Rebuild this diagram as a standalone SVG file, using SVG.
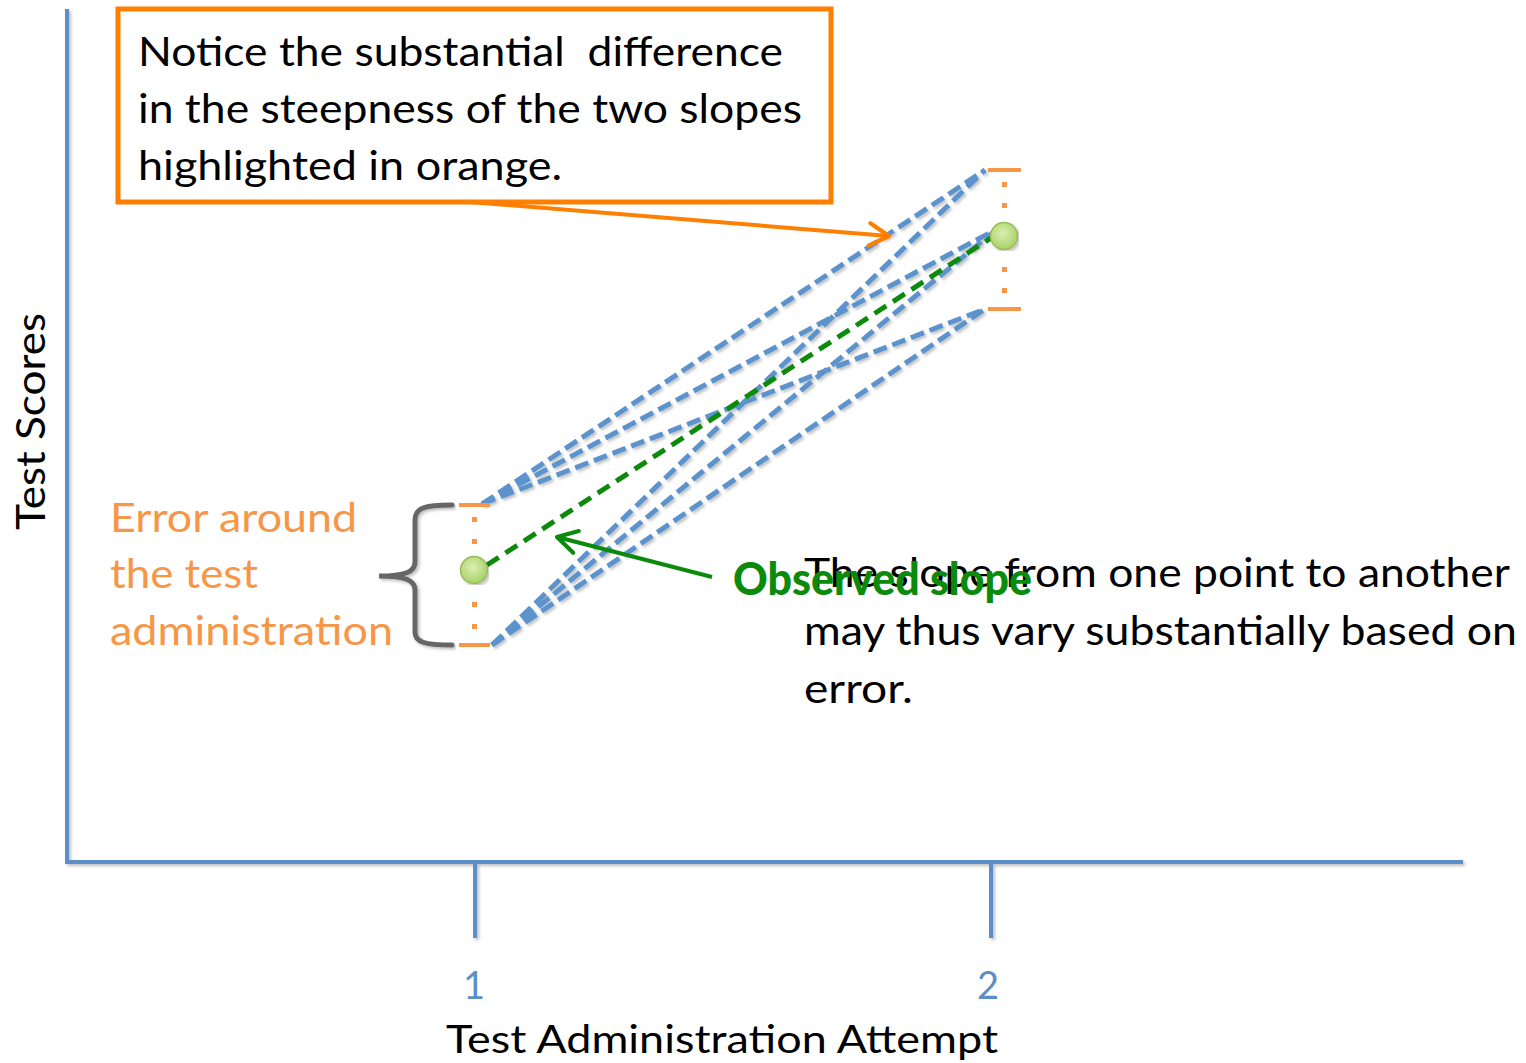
<svg xmlns="http://www.w3.org/2000/svg" width="1526" height="1063" viewBox="0 0 1526 1063">
<defs>
<filter id="sh" x="-5%" y="-5%" width="110%" height="110%">
<feDropShadow dx="2" dy="2" stdDeviation="1.5" flood-color="#000" flood-opacity="0.25"/>
</filter>
<radialGradient id="dotg" cx="45%" cy="40%" r="60%">
<stop offset="0" stop-color="#dcefb0"/>
<stop offset="1" stop-color="#a9d16a"/>
</radialGradient>
<marker id="arrO" viewBox="0 0 20 20" refX="17" refY="10" markerWidth="7" markerHeight="7" markerUnits="strokeWidth" orient="auto">
<path d="M3,2 L17,10 L3,18" fill="none" stroke="#ff7f00" stroke-width="3" stroke-linecap="round" stroke-linejoin="round"/>
</marker>
<marker id="arrG" viewBox="0 0 20 20" refX="17" refY="10" markerWidth="7" markerHeight="7" markerUnits="strokeWidth" orient="auto">
<path d="M3,2 L17,10 L3,18" fill="none" stroke="#0c8a0c" stroke-width="3" stroke-linecap="round" stroke-linejoin="round"/>
</marker>
</defs>
<style>
.t{font-family:Lato,"Open Sans","Liberation Sans",sans-serif;font-size:41px;fill:#000}
.or{fill:#f79646}
.ax{stroke:#5b8fc7;stroke-width:4;fill:none}
.bl{stroke:#5b93cc;stroke-width:5;stroke-dasharray:14 6;fill:none}
.cap{stroke:#f79646;stroke-width:4}
.dt{fill:#f79646}
</style>
<rect width="1526" height="1063" fill="#fff"/>

<g id="axes" filter="url(#sh)">
<line class="ax" x1="67" y1="9" x2="67" y2="863"/>
<line class="ax" x1="65" y1="862" x2="1463" y2="862"/>
<line class="ax" x1="475" y1="862" x2="475" y2="938"/>
<line class="ax" x1="991" y1="862" x2="991" y2="938"/>
</g>

<g id="axis-labels">
<text class="t" x="463" y="999" style="fill:#5b8fc7;font-size:38px">1</text>
<text class="t" x="977" y="999" style="fill:#5b8fc7;font-size:38px">2</text>
<text class="t" x="446" y="1053" style="font-size:38px" textLength="552" lengthAdjust="spacingAndGlyphs">Test Administration Attempt</text>
<text class="t" transform="translate(45,530) rotate(-90)" x="0" y="0" textLength="217" lengthAdjust="spacingAndGlyphs">Test Scores</text>
</g>

<g id="connectors">
<g filter="url(#sh)">
<line class="bl" x1="482" y1="504" x2="985" y2="170"/>
<line class="bl" x1="482" y1="504" x2="997" y2="229"/>
<line class="bl" x1="482" y1="504" x2="985" y2="309"/>
<line class="bl" x1="492" y1="645" x2="985" y2="170"/>
<line class="bl" x1="492" y1="645" x2="997" y2="229"/>
<line class="bl" x1="492" y1="645" x2="985" y2="309"/>
</g>
<line x1="487" y1="565" x2="994" y2="236" stroke="#0c8a0c" stroke-width="5" stroke-dasharray="14 8"/>
<line x1="470" y1="202" x2="889" y2="236" stroke="#ff7f00" stroke-width="4" marker-end="url(#arrO)"/>
<line x1="712" y1="577" x2="557" y2="537" stroke="#0c8a0c" stroke-width="4" marker-end="url(#arrG)"/>
</g>

<g id="error-bar-1">
<line class="cap" x1="459" y1="505" x2="490" y2="505"/>
<line class="cap" x1="459" y1="645" x2="490" y2="645"/>
<rect class="dt" x="472" y="517" width="5" height="5"/>
<rect class="dt" x="472" y="539" width="5" height="5"/>
<rect class="dt" x="472" y="602" width="5" height="5"/>
<rect class="dt" x="472" y="624" width="5" height="5"/>
<circle cx="474" cy="570" r="13.5" fill="url(#dotg)" stroke="#9bbb59" stroke-width="1.5" filter="url(#sh)"/>
</g>

<g id="error-bar-2">
<line class="cap" x1="988" y1="170" x2="1021" y2="170"/>
<line class="cap" x1="988" y1="309" x2="1021" y2="309"/>
<rect class="dt" x="1002" y="182" width="5" height="5"/>
<rect class="dt" x="1002" y="203" width="5" height="5"/>
<rect class="dt" x="1002" y="267" width="5" height="5"/>
<rect class="dt" x="1002" y="288" width="5" height="5"/>
<circle cx="1004" cy="236" r="13.5" fill="url(#dotg)" stroke="#9bbb59" stroke-width="1.5" filter="url(#sh)"/>
</g>

<g id="brace" filter="url(#sh)">
<path d="M452,505 C424,505 415,508 415,520 L415,562 C415,572 405,576 379,576 C405,576 415,580 415,590 L415,632 C415,642 424,645 452,645" fill="none" stroke="#666" stroke-width="5" stroke-linecap="round"/>
</g>

<g id="error-label">
<text class="t or" x="110" y="532" textLength="247" lengthAdjust="spacingAndGlyphs">Error around</text>
<text class="t or" x="110" y="588" textLength="148" lengthAdjust="spacingAndGlyphs">the test</text>
<text class="t or" x="110" y="645" textLength="283" lengthAdjust="spacingAndGlyphs">administration</text>
</g>

<g id="callout">
<rect x="118" y="9" width="713" height="193" fill="#fff" stroke="#ff7f00" stroke-width="5"/>
<text class="t" x="138" y="66" textLength="645" lengthAdjust="spacingAndGlyphs" xml:space="preserve">Notice the substantial  difference</text>
<text class="t" x="138" y="123" textLength="664" lengthAdjust="spacingAndGlyphs">in the steepness of the two slopes</text>
<text class="t" x="138" y="180" textLength="424" lengthAdjust="spacingAndGlyphs">highlighted in orange.</text>
</g>

<g id="slope-note">
<text class="t" x="804" y="587" textLength="706" lengthAdjust="spacingAndGlyphs">The slope from one point to another</text>
<text class="t" x="804" y="645" textLength="713" lengthAdjust="spacingAndGlyphs">may thus vary substantially based on</text>
<text class="t" x="804" y="703" textLength="109" lengthAdjust="spacingAndGlyphs">error.</text>
</g>

<g id="observed-label">
<text class="t" x="733" y="595" style="fill:#0c8a0c;font-weight:900;font-size:45px" textLength="299" lengthAdjust="spacingAndGlyphs">Observed slope</text>
</g>
</svg>
